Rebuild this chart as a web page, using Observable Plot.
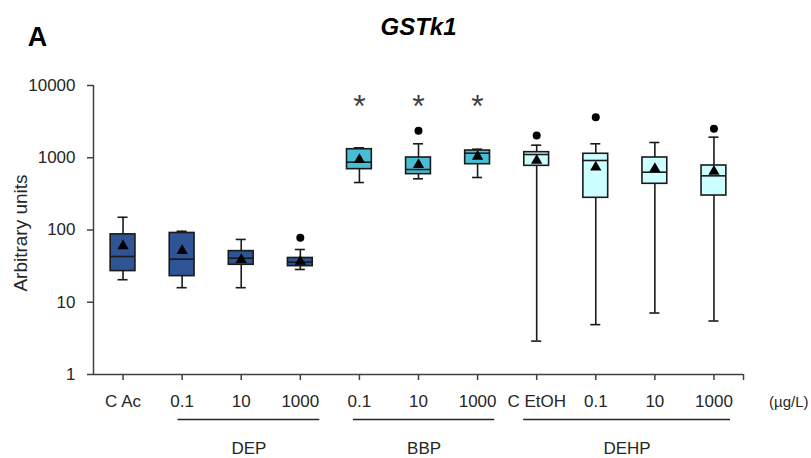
<!DOCTYPE html>
<html>
<head>
<meta charset="utf-8">
<script src="https://cdn.jsdelivr.net/npm/d3@7"></script>
<script src="https://cdn.jsdelivr.net/npm/@observablehq/plot@0.6"></script>
<style>
  html, body { margin: 0; padding: 0; background: #fff; }
</style>
</head>
<body>
<div id="chart"></div>
<script>
// ---- data ----
const categories = ["C Ac", "0.1", "10", "1000", "0.1", "10", "1000", "C EtOH", "0.1", "10", "1000"];
const colorGroup = ["DEP", "DEP", "DEP", "DEP", "BBP", "BBP", "BBP", "DEHP", "DEHP", "DEHP", "DEHP"];
const whiskerLow  = [20.5, 15.9, 15.9, 28.4, 454, 511, 533, 2.9, 4.9, 7.1, 5.5];
const q1          = [27, 23, 33, 31.6, 695, 593, 814, 773, 279, 436, 300];
const median      = [43, 39.5, 40.7, 35.9, 869, 687, 1156, 1109, 916, 631, 562];
const q3          = [87, 91, 51, 41, 1312, 1008, 1259, 1194, 1135, 1008, 781];
const whiskerHigh = [150, 96, 74, 53.7, 1374, 1560, 1313, 1492, 1560, 1626, 1927];
const meanValue   = [60, 51.5, 38.7, 36.6, 935, 799, 1040, 916, 740, 703, 645];
const outlierIndex = [3, 5, 7, 8, 10];
const outlierValue = [78, 2360, 2032, 3640, 2512];
const starIndex = [4, 5, 6];
const groupNames = ["DEP", "BBP", "DEHP"];
const groupStart = [0.93, 3.9, 6.78];   // in category units
const groupEnd   = [3.33, 6.29, 10.28];
const yTicks = [1, 10, 100, 1000, 10000];
const unitLabel = "(µg/L)";
const title = "GSTk1";
const panelLetter = "A";
const yLabel = "Arbitrary units";

// ---- tables ----
const boxes = categories.map((c, i) => ({
  i, c, group: colorGroup[i],
  lo: whiskerLow[i], q1: q1[i], med: median[i], q3: q3[i], hi: whiskerHigh[i], mean: meanValue[i]
}));
const outliers = outlierIndex.map((i, k) => ({i, v: outlierValue[k]}));
const groups = groupNames.map((g, k) => ({g, x1: groupStart[k], x2: groupEnd[k], xm: (groupStart[k] + groupEnd[k]) / 2}));

const bw = 0.21, cw = 0.085;
const ink = "#1a1a1a";
const xTickValues = [...d3.range(categories.length), categories.length - 0.5];

const chart = Plot.plot({
  width: 811,
  height: 458,
  marginLeft: 93,
  marginRight: 68,
  marginTop: 85,
  marginBottom: 84,
  style: {fontFamily: "'Liberation Sans', Arial, sans-serif", fontSize: "17px", color: "#262626", background: "#fff"},
  x: {type: "linear", domain: [-0.5, 10.5]},
  y: {type: "log", domain: [1, 10000]},
  color: {domain: ["DEP", "BBP", "DEHP"], range: ["#2F5597", "#47BED4", "#CCFFFF"]},
  marks: [
    // axes
    Plot.axisY({ticks: yTicks, tickFormat: d => String(d), tickSize: 6, tickPadding: 12, fontSize: 17, label: null, stroke: "#404040", strokeWidth: 1.5}),
    Plot.axisX({ticks: xTickValues, tickFormat: i => categories[i] ?? "", tickSize: 6, tickPadding: 14, fontSize: 17, label: null, stroke: "#404040", strokeWidth: 1.5}),
    Plot.ruleX([-0.5], {stroke: "#404040", strokeWidth: 1.5}),
    Plot.ruleY([1], {stroke: "#404040", strokeWidth: 1.5}),
    // whiskers
    Plot.ruleX(boxes, {x: "i", y1: "lo", y2: "hi", stroke: ink, strokeWidth: 1.6}),
    Plot.ruleY(boxes, {x1: d => d.i - cw, x2: d => d.i + cw, y: "lo", stroke: ink, strokeWidth: 1.6}),
    Plot.ruleY(boxes, {x1: d => d.i - cw, x2: d => d.i + cw, y: "hi", stroke: ink, strokeWidth: 1.6}),
    // boxes
    Plot.rect(boxes, {x1: d => d.i - bw, x2: d => d.i + bw, y1: "q1", y2: "q3", fill: "group", stroke: ink, strokeWidth: 1.6}),
    Plot.ruleY(boxes, {x1: d => d.i - bw, x2: d => d.i + bw, y: "med", stroke: ink, strokeWidth: 1.6}),
    // means
    Plot.dot(boxes, {x: "i", y: "mean", symbol: "triangle", r: 4.2, fill: "black", stroke: "none"}),
    // outliers
    Plot.dot(outliers, {x: "i", y: "v", r: 4, fill: "black", stroke: "none"}),
    // significance stars
    Plot.text(starIndex, {x: d => d, y: 10000, text: () => "*", fontSize: 32, fill: "#404040", dy: 21}),
    // unit label
    Plot.text([unitLabel], {x: 10.5, y: 1, dx: 65, dy: 28, textAnchor: "end", fontSize: 15, fill: "#262626"}),
    // group lines and labels
    Plot.ruleY(groups, {x1: "x1", x2: "x2", y: 1, dy: 45, stroke: "#262626", strokeWidth: 1.3}),
    Plot.text(groups, {x: "xm", y: 1, text: "g", dy: 74, fontSize: 17, fill: "#262626"}),
    // y label
    Plot.text([yLabel], {frameAnchor: "left", textAnchor: "middle", lineAnchor: "middle", rotate: -90, dx: -73, dy: 3, fontSize: 19, fill: "#262626"}),
    // title and panel letter
    Plot.text([title], {frameAnchor: "top", lineAnchor: "middle", dy: -58, fontSize: 24, fontWeight: "bold", fontStyle: "italic", fill: "#000"}),
    Plot.text([panelLetter], {frameAnchor: "top-left", textAnchor: "middle", lineAnchor: "middle", dx: -56, dy: -48, fontSize: 27, fontWeight: "bold", fill: "#000"})
  ]
});
document.getElementById("chart").appendChild(chart);
</script>
</body>
</html>
